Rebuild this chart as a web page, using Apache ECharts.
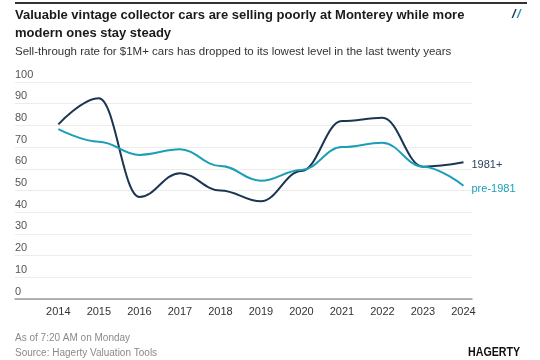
<!DOCTYPE html>
<html><head><meta charset="utf-8">
<script src="https://cdn.jsdelivr.net/npm/echarts@6/dist/echarts.min.js"></script>
<style>html,body{margin:0;padding:0;background:#fff}#c{width:540px;height:360px}</style>
</head><body><div id="c"></div>
<script>
const years = [2014, 2015, 2016, 2017, 2018, 2019, 2020, 2021, 2022, 2023, 2024];
const post1981 = [80.5, 92.5, 47, 58, 50, 45, 59, 82, 83.5, 61, 63];
const pre1981 = [78.3, 72.5, 66.4, 69, 61.3, 54.5, 59.5, 70, 72, 61, 52.2];
const seriesNames = ['1981+', 'pre-1981'];
const titleLine1 = 'Valuable vintage collector cars are selling poorly at Monterey while more';
const titleLine2 = 'modern ones stay steady';
const subtitle = 'Sell-through rate for $1M+ cars has dropped to its lowest level in the last twenty years';
const note = 'As of 7:20 AM on Monday';
const source = 'Source: Hagerty Valuation Tools';

const FONT = '"Liberation Sans", Arial, sans-serif';
const chart = echarts.init(document.getElementById('c'), null, {renderer: 'canvas'});
const pairs = arr => years.map((y, i) => [y, arr[i]]);
chart.setOption({
  animation: false,
  backgroundColor: '#fff',
  textStyle: {fontFamily: FONT},
  grid: {left: 15, right: 68, top: 82, bottom: 61},
  xAxis: {
    type: 'value', min: 2012.93, max: 2024.21,
    axisLine: {show: true, lineStyle: {color: '#999', width: 1.5}},
    axisTick: {show: false},
    splitLine: {show: false},
    axisLabel: {customValues: years, formatter: v => String(Math.round(v)), color: '#333', fontSize: 11, margin: 7, fontFamily: FONT}
  },
  yAxis: {
    type: 'value', min: 0, max: 100, interval: 10,
    axisLine: {show: false}, axisTick: {show: false},
    splitLine: {lineStyle: {color: '#ececec', width: 1}},
    axisLabel: {inside: true, margin: 0, verticalAlign: 'bottom', padding: [0, 0, 2, 0], color: '#555', fontSize: 11, fontFamily: FONT}
  },
  series: [
    {name: seriesNames[0], type: 'line', data: pairs(post1981), smooth: 0.4, smoothMonotone: 'x', showSymbol: false,
     lineStyle: {color: '#1c3552', width: 2}, itemStyle: {color: '#1c3552'},
     endLabel: {show: true, formatter: seriesNames[0], color: '#2b4360', fontSize: 11, distance: 8, offset: [0, 3], fontFamily: FONT}},
    {name: seriesNames[1], type: 'line', data: pairs(pre1981), smooth: 0.4, smoothMonotone: 'x', showSymbol: false,
     lineStyle: {color: '#1b9fb6', width: 2}, itemStyle: {color: '#1b9fb6'},
     endLabel: {show: true, formatter: seriesNames[1], color: '#1b9fb6', fontSize: 11, distance: 8, offset: [0, 3], fontFamily: FONT}}
  ],
  graphic: [
    {type: 'rect', shape: {x: 15, y: 2, width: 512, height: 2}, style: {fill: '#333'}},
    {type: 'text', left: 15, top: 9, style: {text: titleLine1, font: 'bold 13px ' + FONT, fill: '#1a1a1a'}},
    {type: 'text', left: 15, top: 27, style: {text: titleLine2, font: 'bold 13px ' + FONT, fill: '#1a1a1a'}},
    {type: 'text', left: 15, top: 46, style: {text: subtitle, font: '11.5px ' + FONT, fill: '#333'}},
    {type: 'text', left: 512, top: 8, style: {text: '/', font: 'italic bold 13px ' + FONT, fill: '#1c3552'}},
    {type: 'text', left: 517, top: 8, style: {text: '/', font: 'italic bold 13px ' + FONT, fill: '#1b9fb6'}},
    {type: 'text', left: 15, top: 333, style: {text: note, font: '10px ' + FONT, fill: '#8a8a8a'}},
    {type: 'text', left: 15, top: 348, style: {text: source, font: '10px ' + FONT, fill: '#8a8a8a'}},
    {type: 'text', x: 468, y: 346, scaleX: 0.82, style: {text: 'HAGERTY', font: 'bold 13px ' + FONT, fill: '#111'}}
  ]
});
</script></body></html>
